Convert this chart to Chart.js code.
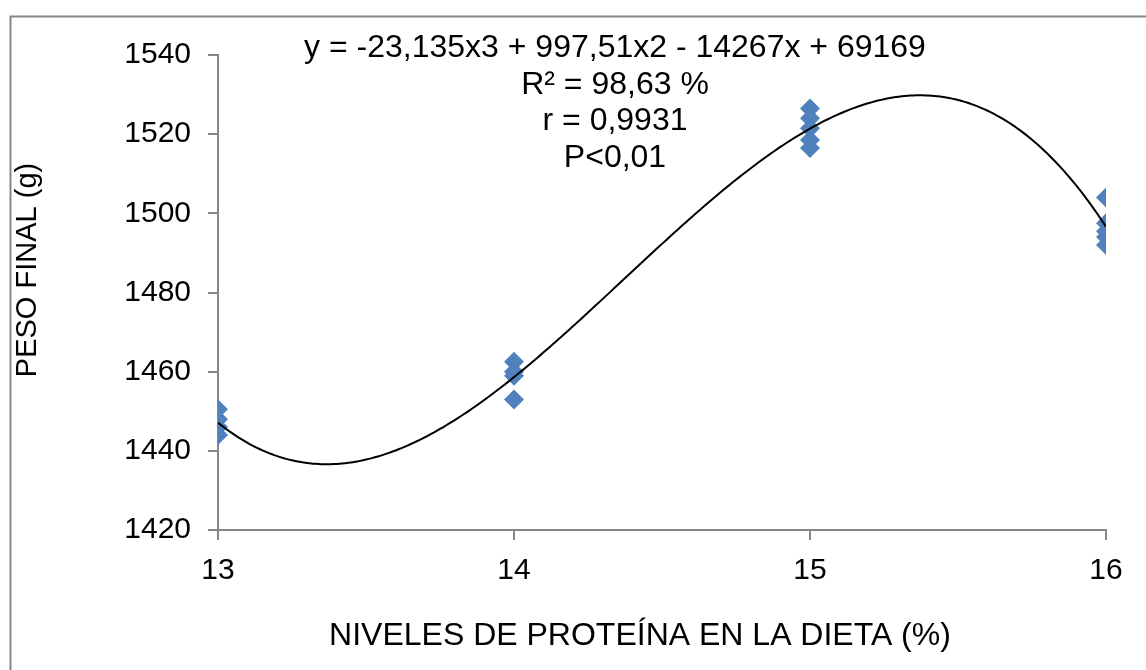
<!DOCTYPE html>
<html>
<head>
<meta charset="utf-8">
<script src="https://cdn.jsdelivr.net/npm/chart.js@4.4.1/dist/chart.umd.min.js"></script>
<style>
  html, body { margin: 0; padding: 0; background: #fff; }
  #wrap { position: relative; width: 1146px; height: 670px; }
  canvas { display: block; }
</style>
</head>
<body>
<div id="wrap"><canvas id="c" width="1146" height="670"></canvas></div>
<script>
// Protein level in the diet (%) and final weight (g) for each replicate
const proteinLevels = [13, 13, 13, 13, 14, 14, 14, 14, 15, 15, 15, 15, 15, 16, 16, 16, 16, 16];
const finalWeights  = [1450.5, 1448, 1446, 1444, 1462.5, 1460, 1459, 1453, 1526.5, 1524, 1521.5, 1518.5, 1516.5, 1504, 1497.5, 1495.5, 1494, 1492];

// Axis ticks
const xTicks = [13, 14, 15, 16];
const yTicks = [1420, 1440, 1460, 1480, 1500, 1520, 1540];

// Annotation text
const statLines = ['y = -23,135x3 + 997,51x2 - 14267x + 69169', 'R² = 98,63 %', 'r = 0,9931', 'P<0,01'];
const xTitle = 'NIVELES DE PROTEÍNA EN LA DIETA (%)';
const yTitle = 'PESO FINAL (g)';

const points = proteinLevels.map((x, i) => ({ x, y: finalWeights[i] }));

// Least-squares cubic trend of the replicates (x centred for conditioning)
function cubicFit(xs, ys) {
  const n = 4, xm = xs.reduce((a, b) => a + b, 0) / xs.length;
  const A = Array.from({ length: n }, () => new Array(n + 1).fill(0));
  xs.forEach((x0, k) => {
    const x = x0 - xm;
    const p = [1, x, x * x, x * x * x];
    for (let i = 0; i < n; i++) {
      for (let j = 0; j < n; j++) A[i][j] += p[i] * p[j];
      A[i][n] += p[i] * ys[k];
    }
  });
  for (let c = 0; c < n; c++) {
    let piv = c;
    for (let r = c + 1; r < n; r++) if (Math.abs(A[r][c]) > Math.abs(A[piv][c])) piv = r;
    [A[c], A[piv]] = [A[piv], A[c]];
    for (let r = 0; r < n; r++) {
      if (r === c) continue;
      const f = A[r][c] / A[c][c];
      for (let k = c; k <= n; k++) A[r][k] -= f * A[c][k];
    }
  }
  const b = A.map((row, i) => row[n] / row[i]);
  return x => { const t = x - xm; return b[0] + b[1] * t + b[2] * t * t + b[3] * t * t * t; };
}
const trendFn = cubicFit(proteinLevels, finalWeights);
const trend = [];
for (let i = 0; i <= 300; i++) {
  const x = xTicks[0] + (xTicks[xTicks.length - 1] - xTicks[0]) * i / 300;
  trend.push({ x, y: trendFn(x) });
}

const FONT = '"Liberation Sans", Arial, sans-serif';
const AXIS_GRAY = '#868686';

const textPlugin = {
  id: 'chartText',
  beforeDraw(chart) {
    const ctx = chart.ctx;
    ctx.save();
    ctx.fillStyle = '#fff';
    ctx.fillRect(0, 0, chart.width, chart.height);
    // outer frame
    ctx.strokeStyle = AXIS_GRAY;
    ctx.lineWidth = 2;
    ctx.strokeRect(10.5, 16.5, 1200, 800);
    ctx.restore();
  },
  afterDraw(chart) {
    const ctx = chart.ctx;
    ctx.save();
    ctx.fillStyle = '#000';
    ctx.textAlign = 'center';
    ctx.textBaseline = 'middle';
    ctx.font = '32px ' + FONT;
    const lineY = [48, 85, 121, 158];
    statLines.forEach((t, i) => ctx.fillText(t, 615, lineY[i]));
    ctx.fillText(xTitle, 640, 636);
    ctx.translate(28, 270);
    ctx.rotate(-Math.PI / 2);
    ctx.font = '29px ' + FONT;
    ctx.fillText(yTitle, 0, 0);
    ctx.restore();
  }
};

new Chart(document.getElementById('c'), {
  type: 'scatter',
  data: {
    datasets: [
      {
        type: 'line',
        data: trend,
        borderColor: '#000',
        borderWidth: 2,
        pointRadius: 0,
        tension: 0,
        fill: false,
        order: 0
      },
      {
        data: points,
        pointStyle: 'rectRot',
        pointRadius: 10,
        backgroundColor: '#4f81bd',
        borderColor: '#4f81bd',
        borderWidth: 0,
        order: 1
      }
    ]
  },
  options: {
    responsive: false,
    animation: false,
    devicePixelRatio: 1,
    layout: { padding: { left: 0, top: 55, right: 40, bottom: 0 } },
    plugins: { legend: { display: false }, tooltip: { enabled: false } },
    scales: {
      x: {
        type: 'linear',
        min: 13, max: 16,
        afterFit(s) { s.height = 140; },
        afterBuildTicks(s) { s.ticks = xTicks.map(v => ({ value: v })); },
        grid: { display: true, drawOnChartArea: false, drawTicks: true, tickLength: 10, color: AXIS_GRAY, lineWidth: 2 },
        border: { display: true, color: AXIS_GRAY, width: 2 },
        ticks: { color: '#000', font: { family: FONT, size: 30 }, padding: 13, maxRotation: 0, callback: v => String(v) }
      },
      y: {
        type: 'linear',
        min: 1420, max: 1540,
        afterFit(s) { s.width = 218; },
        afterBuildTicks(s) { s.ticks = yTicks.map(v => ({ value: v })); },
        grid: { display: true, drawOnChartArea: false, drawTicks: true, tickLength: 10, color: AXIS_GRAY, lineWidth: 2 },
        border: { display: true, color: AXIS_GRAY, width: 2 },
        ticks: { color: '#000', font: { family: FONT, size: 30 }, padding: 17, callback: v => String(v) }
      }
    }
  },
  plugins: [textPlugin]
});
</script>
</body>
</html>
